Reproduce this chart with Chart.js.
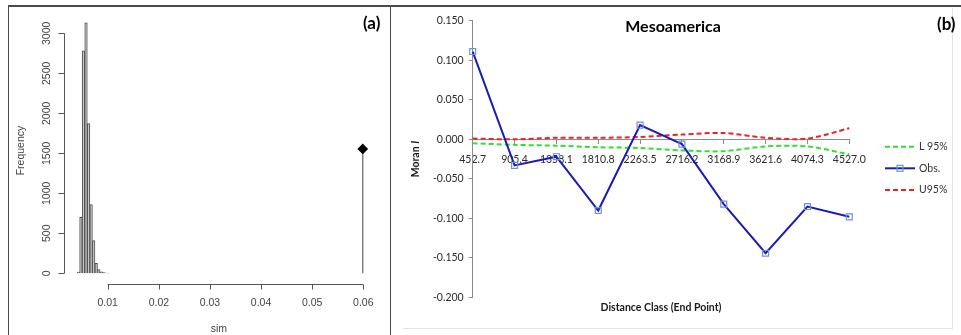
<!DOCTYPE html>
<html>
<head>
<meta charset="utf-8">
<script src="https://cdn.jsdelivr.net/npm/chart.js@4/dist/chart.umd.min.js"></script>
<style>
body { margin:0; background:#fff; width:961px; height:335px; overflow:hidden; position:relative; font-family: Lato, sans-serif; }
#frame { position:absolute; left:8px; top:5px; width:960px; height:400px; border-top:2px solid #4a4a4a; border-left:1px solid #4a4a4a; }
#divider { position:absolute; left:390px; top:5px; width:1px; height:330px; background:#4a4a4a; }
#xlbox { position:absolute; left:403px; top:8px; width:549px; height:320px; border-right:1px solid #e3e3e3; border-bottom:1px solid #e3e3e3; }
.tag { position:absolute; font: bold 17px Lato; color:#000; line-height:20px; }
canvas { position:absolute; top:0; }
#histA { left:0; }
#moranB { left:395px; }
</style>
</head>
<body>
<div id="frame"></div>
<div id="xlbox"></div>
<div id="divider"></div>
<canvas id="histA" width="390" height="335"></canvas>
<canvas id="moranB" width="566" height="335"></canvas>
<div class="tag" style="left:363px; top:13px;">(a)</div>
<div class="tag" style="left:937px; top:14px;">(b)</div>
<script>
// (a) histogram of simulated values
var simBins   = [0.00425, 0.00475, 0.00525, 0.00575, 0.00625, 0.00675, 0.00725, 0.00775, 0.00825, 0.00875, 0.00925, 0.00975, 0.01025];
var simCounts = [15, 700, 2780, 3130, 1870, 860, 410, 125, 45, 18, 8, 4, 2];
var observedSim  = 0.0599;
var observedFreq = 1555;
var simTicks  = [0.01, 0.02, 0.03, 0.04, 0.05, 0.06];
var freqTicks = [0, 500, 1000, 1500, 2000, 2500, 3000];

// (b) Moran's I correlogram
var distClass = ['452.7', '905.4', '1358.1', '1810.8', '2263.5', '2716.2', '3168.9', '3621.6', '4074.3', '4527.0'];
var lower95   = [-0.005, -0.007, -0.008, -0.010, -0.011, -0.014, -0.015, -0.009, -0.009, -0.019];
var obsMoran  = [0.111, -0.033, -0.022, -0.090, 0.018, -0.006, -0.082, -0.144, -0.085, -0.098];
var upper95   = [0.001, 0.000, 0.002, 0.002, 0.003, 0.006, 0.008, 0.002, 0.001, 0.014];

// R style axes for panel (a)
var rAxes = {
    id: 'rAxes',
    afterDraw: function(chart) {
        var ctx = chart.ctx, a = chart.chartArea, x = chart.scales.x, y = chart.scales.y;
        ctx.save();
        ctx.strokeStyle = '#555';
        ctx.lineWidth = 1;
        ctx.fillStyle = '#444';
        ctx.font = '10.5px "Liberation Sans"';

        var by = Math.round(a.bottom) + 0.5;
        var x0 = x.getPixelForValue(simTicks[0]), x1 = x.getPixelForValue(simTicks[simTicks.length - 1]);
        ctx.beginPath();
        ctx.moveTo(x0, by); ctx.lineTo(x1, by);
        simTicks.forEach(function(t) {
            var px = Math.round(x.getPixelForValue(t)) + 0.5;
            ctx.moveTo(px, by); ctx.lineTo(px, by + 5);
        });
        ctx.stroke();
        ctx.textAlign = 'center';
        ctx.textBaseline = 'middle';
        simTicks.forEach(function(t) {
            ctx.fillText(t.toFixed(2), x.getPixelForValue(t), by + 19);
        });
        ctx.fillText('sim', (a.left + a.right) / 2, by + 45);

        var lx = Math.round(a.left) + 0.5;
        var y0 = y.getPixelForValue(freqTicks[0]), y1 = y.getPixelForValue(freqTicks[freqTicks.length - 1]);
        ctx.beginPath();
        ctx.moveTo(lx, y0); ctx.lineTo(lx, y1);
        freqTicks.forEach(function(t) {
            var py = Math.round(y.getPixelForValue(t)) + 0.5;
            ctx.moveTo(lx, py); ctx.lineTo(lx - 6, py);
        });
        ctx.stroke();
        freqTicks.forEach(function(t) {
            ctx.save();
            ctx.translate(lx - 17, y.getPixelForValue(t));
            ctx.rotate(-Math.PI / 2);
            ctx.fillText(String(t), 0, 0);
            ctx.restore();
        });
        ctx.save();
        ctx.translate(21, (a.top + a.bottom) / 2);
        ctx.rotate(-Math.PI / 2);
        ctx.fillText('Frequency', 0, 0);
        ctx.restore();
        ctx.restore();
    }
};

new Chart(document.getElementById('histA'), {
    type: 'bar',
    data: {
        datasets: [{
            type: 'bar',
            data: simBins.map(function(b, i) { return {x: b, y: simCounts[i]}; }),
            backgroundColor: '#c8c8c8',
            borderColor: '#505050',
            borderWidth: 1,
            barPercentage: 1,
            categoryPercentage: 1,
            order: 2
        }, {
            type: 'line',
            data: [{x: observedSim, y: 0}, {x: observedSim, y: observedFreq}],
            borderColor: '#666',
            borderWidth: 1.2,
            pointStyle: 'rectRot',
            pointRadius: [0, 4.5],
            pointBackgroundColor: '#000',
            pointBorderColor: '#000',
            order: 1
        }]
    },
    options: {
        responsive: false,
        animation: false,
        events: [],
        layout: {padding: {left: 64.3, top: 17, right: 16.5, bottom: 51}},
        plugins: {legend: {display: false}, tooltip: {enabled: false}},
        scales: {
            x: {type: 'linear', display: false, offset: false, min: 0.0015, max: 0.062, ticks: {stepSize: 0.01}},
            y: {display: false, min: -134, max: 3204}
        }
    },
    plugins: [rAxes]
});

// titles and legend for panel (b)
var excelText = {
    id: 'excelText',
    afterDraw: function(chart) {
        var ctx = chart.ctx, a = chart.chartArea;
        var midY = (a.top + a.bottom) / 2;
        ctx.save();
        ctx.textBaseline = 'middle';
        ctx.textAlign = 'center';
        ctx.fillStyle = '#000';
        ctx.font = 'bold 16px Lato';
        ctx.fillText('Mesoamerica', 278, 27);

        ctx.fillStyle = '#1a1a1a';
        ctx.font = 'bold 10.5px Lato';
        ctx.fillText('Distance Class (End Point)', (a.left + a.right) / 2, 307.5);

        ctx.save();
        ctx.translate(20.5, midY);
        ctx.rotate(-Math.PI / 2);
        ctx.textAlign = 'left';
        ctx.font = 'bold 10.5px Lato';
        var w1 = ctx.measureText('Moran ').width;
        ctx.font = 'italic bold 10.5px Lato';
        var w2 = ctx.measureText('I').width;
        var sx = -(w1 + w2) / 2;
        ctx.font = 'bold 10.5px Lato';
        ctx.fillText('Moran ', sx, 0);
        ctx.font = 'italic bold 10.5px Lato';
        ctx.fillText('I', sx + w1, 0);
        ctx.restore();

        var rows = [146.7, 168.3, 190];
        ctx.font = '10.5px Lato';
        ctx.textAlign = 'left';
        chart.data.datasets.forEach(function(ds, i) {
            var yy = rows[i];
            ctx.save();
            ctx.strokeStyle = ds.borderColor;
            ctx.lineWidth = ds.borderWidth;
            ctx.setLineDash(ds.borderDash || []);
            ctx.beginPath();
            ctx.moveTo(490, yy); ctx.lineTo(520, yy);
            ctx.stroke();
            if (ds.pointRadius) {
                ctx.setLineDash([]);
                ctx.strokeStyle = ds.pointBorderColor;
                ctx.lineWidth = ds.pointBorderWidth;
                ctx.strokeRect(502, yy - 3, 6, 6);
            }
            ctx.restore();
            ctx.fillStyle = '#333';
            ctx.fillText(ds.label, 524, yy);
        });
        ctx.restore();
    }
};

var tickFont = {family: 'Lato', size: 10.5};

new Chart(document.getElementById('moranB'), {
    type: 'line',
    data: {
        labels: distClass,
        datasets: [{
            label: 'L 95%',
            data: lower95,
            borderColor: '#2fe02f',
            borderWidth: 2,
            borderDash: [5, 3],
            pointRadius: 0,
            tension: 0.3,
            order: 1
        }, {
            label: 'Obs.',
            data: obsMoran,
            borderColor: '#1c1cb4',
            borderWidth: 2,
            pointStyle: 'rect',
            pointRadius: 4.2,
            pointBorderColor: '#6f93d3',
            pointBorderWidth: 1.2,
            pointBackgroundColor: 'rgba(255,255,255,0)',
            tension: 0,
            order: 0
        }, {
            label: 'U95%',
            data: upper95,
            borderColor: '#ee2222',
            borderWidth: 2,
            borderDash: [5, 3],
            pointRadius: 0,
            tension: 0.3,
            order: 1
        }]
    },
    options: {
        responsive: false,
        animation: false,
        events: [],
        layout: {padding: {left: 0, top: 20.7, right: 111.7, bottom: 37.5}},
        plugins: {legend: {display: false}, tooltip: {enabled: false}},
        scales: {
            x: {
                type: 'category',
                offset: false,
                position: {y: 0},
                grid: {offset: false, drawOnChartArea: false, tickLength: 4, color: '#8c8c8c'},
                border: {color: '#8c8c8c'},
                ticks: {font: tickFont, color: '#2b2b2b', maxRotation: 0, minRotation: 0, autoSkip: false, padding: 10}
            },
            y: {
                min: -0.2,
                max: 0.15,
                afterFit: function(scale) { scale.width = 77.7; },
                grid: {drawOnChartArea: false, tickLength: 4, color: '#8c8c8c'},
                border: {color: '#8c8c8c'},
                ticks: {
                    stepSize: 0.05,
                    font: tickFont,
                    color: '#2b2b2b',
                    padding: 5,
                    callback: function(v) { return (Math.abs(v) < 1e-9 ? 0 : v).toFixed(3); }
                }
            }
        }
    },
    plugins: [excelText]
});
</script>
</body>
</html>
